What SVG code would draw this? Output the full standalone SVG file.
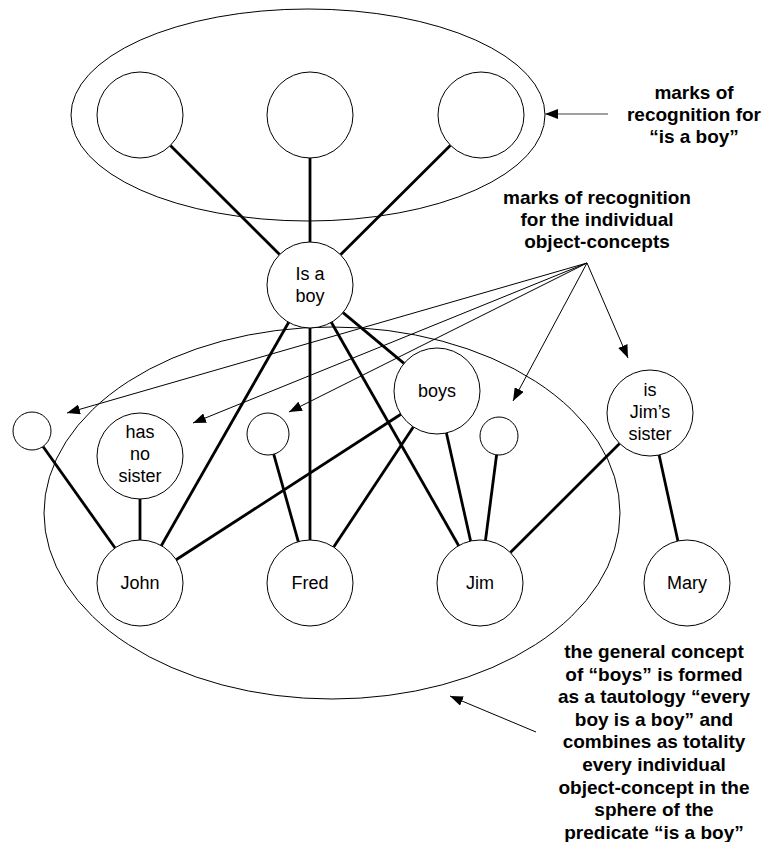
<svg xmlns="http://www.w3.org/2000/svg" width="762" height="842" viewBox="0 0 762 842">
<style>
.bg{fill:#ffffff}
.set{fill:none;stroke:#000;stroke-width:1}
.node{fill:#ffffff;stroke:#000;stroke-width:1}
.link{stroke:#000;stroke-width:2.8;fill:none}
.ptr{stroke:#000;stroke-width:1;fill:none}
.gptr{stroke:#808080;stroke-width:1.5;fill:none}
.lbl{font-family:"Liberation Sans",Arial,sans-serif;font-size:18px;fill:#000;text-anchor:middle}
.note{font-family:"Liberation Sans",Arial,sans-serif;font-size:19px;font-weight:bold;fill:#000;text-anchor:middle}
</style>
<defs>
<marker id="ah" markerUnits="userSpaceOnUse" markerWidth="14" markerHeight="10" refX="13" refY="5" orient="auto">
<path d="M0,0 L13,5 L0,10 z" fill="#000"/>
</marker>
</defs>
<rect class="bg" x="0" y="0" width="762" height="842"/>
<g id="spheres">
<ellipse class="set" cx="308" cy="115" rx="237" ry="106"/>
<ellipse class="set" cx="332" cy="513" rx="288" ry="186"/>
</g>
<g id="connectors">
<line class="link" x1="170.4" y1="145.4" x2="279.6" y2="254.6"/>
<line class="link" x1="310" y1="158" x2="310" y2="242"/>
<line class="link" x1="450.5" y1="145.3" x2="340.5" y2="254.7"/>
<line class="link" x1="288.7" y1="322.3" x2="161.3" y2="545.7"/>
<line class="link" x1="310" y1="328" x2="310" y2="540"/>
<line class="link" x1="331.3" y1="322.3" x2="458.7" y2="545.7"/>
<line class="link" x1="343" y1="312.6" x2="404" y2="363.4"/>
<line class="link" x1="43" y1="446.5" x2="115.1" y2="548"/>
<line class="link" x1="140" y1="499" x2="140" y2="540"/>
<line class="link" x1="400.9" y1="414.3" x2="176.1" y2="559.7"/>
<line class="link" x1="273.7" y1="454.2" x2="298.3" y2="541.6"/>
<line class="link" x1="413.3" y1="426.9" x2="333.7" y2="547.1"/>
<line class="link" x1="446.4" y1="433" x2="470.6" y2="541"/>
<line class="link" x1="496.6" y1="454.8" x2="485.5" y2="540.3"/>
<line class="link" x1="619.6" y1="443.4" x2="510.4" y2="552.6"/>
<line class="link" x1="659.1" y1="455" x2="677.9" y2="541"/>
<line class="ptr" x1="587" y1="263" x2="67" y2="413" marker-end="url(#ah)"/>
<line class="ptr" x1="587" y1="263" x2="193" y2="423" marker-end="url(#ah)"/>
<line class="ptr" x1="587" y1="263" x2="289" y2="412" marker-end="url(#ah)"/>
<line class="ptr" x1="587" y1="263" x2="513" y2="401" marker-end="url(#ah)"/>
<line class="ptr" x1="587" y1="263" x2="628" y2="358" marker-end="url(#ah)"/>
<line class="gptr" x1="608" y1="114" x2="545" y2="114" marker-end="url(#ah)"/>
<line class="ptr" x1="536" y1="732" x2="450" y2="696" marker-end="url(#ah)"/>
</g>
<g id="mark1"><circle class="node" cx="140" cy="115" r="43"/></g>
<g id="mark2"><circle class="node" cx="310" cy="115" r="43"/></g>
<g id="mark3"><circle class="node" cx="481" cy="115" r="43"/></g>
<g id="isaboy"><circle class="node" cx="310" cy="285" r="43"/><text class="lbl" x="310" y="280">Is a</text><text class="lbl" x="310" y="302">boy</text></g>
<g id="small1"><circle class="node" cx="32" cy="431" r="19"/></g>
<g id="hasnosister"><circle class="node" cx="140" cy="456" r="43"/><text class="lbl" x="140" y="438">has</text><text class="lbl" x="140" y="460">no</text><text class="lbl" x="140" y="482">sister</text></g>
<g id="small2"><circle class="node" cx="268" cy="434" r="21"/></g>
<g id="boys"><circle class="node" cx="437" cy="391" r="43"/><text class="lbl" x="437" y="397">boys</text></g>
<g id="small3"><circle class="node" cx="499" cy="436" r="19"/></g>
<g id="jimssister"><circle class="node" cx="650" cy="413" r="43"/><text class="lbl" x="650" y="396">is</text><text class="lbl" x="650" y="418">Jim’s</text><text class="lbl" x="650" y="440">sister</text></g>
<g id="john"><circle class="node" cx="140" cy="583" r="43"/><text class="lbl" x="140" y="589">John</text></g>
<g id="fred"><circle class="node" cx="310" cy="583" r="43"/><text class="lbl" x="310" y="589">Fred</text></g>
<g id="jim"><circle class="node" cx="480" cy="583" r="43"/><text class="lbl" x="480" y="589">Jim</text></g>
<g id="mary"><circle class="node" cx="687" cy="583" r="43"/><text class="lbl" x="687" y="589">Mary</text></g>
<g id="note-isaboy">
<text class="note" x="694" y="99">marks of</text>
<text class="note" x="694" y="121">recognition for</text>
<text class="note" x="694" y="143">“is a boy”</text>
</g>
<g id="note-individual">
<text class="note" x="597" y="204">marks of recognition</text>
<text class="note" x="597" y="226">for the individual</text>
<text class="note" x="597" y="248">object-concepts</text>
</g>
<g id="note-general">
<text class="note" x="654" y="658">the general concept</text>
<text class="note" x="654" y="680.6">of “boys” is formed</text>
<text class="note" x="654" y="703.2">as a tautology “every</text>
<text class="note" x="654" y="725.8">boy is a boy” and</text>
<text class="note" x="654" y="748.4">combines as totality</text>
<text class="note" x="654" y="771">every individual</text>
<text class="note" x="654" y="793.6">object-concept in the</text>
<text class="note" x="654" y="816.2">sphere of the</text>
<text class="note" x="654" y="838.8">predicate “is a boy”</text>
</g>
</svg>
